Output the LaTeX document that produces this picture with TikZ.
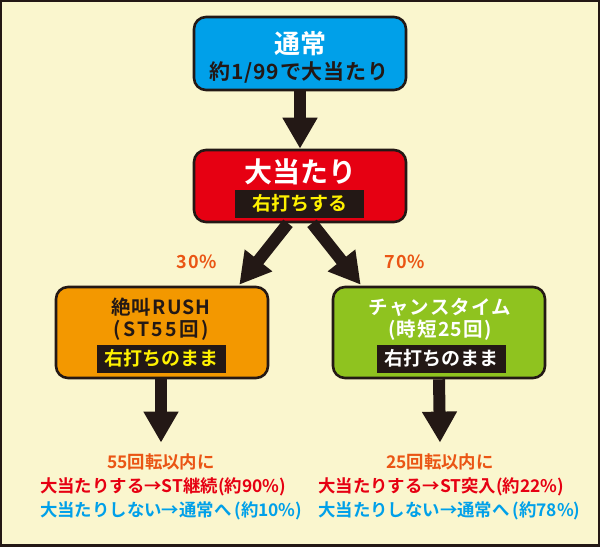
\documentclass[tikz,border=0pt]{standalone}
\usepackage{fontspec}
\setmainfont{Noto Sans CJK JP}[BoldFont={Noto Sans CJK JP Bold}]
\usetikzlibrary{arrows.meta, positioning}
\definecolor{paper1}{RGB}{250, 246, 206}
\definecolor{ink1}{RGB}{35, 24, 21}
\definecolor{tsujoblue}{RGB}{0, 160, 233}
\definecolor{hitred}{RGB}{230, 0, 18}
\definecolor{rushorange}{RGB}{243, 152, 0}
\definecolor{chancegreen}{RGB}{143, 195, 31}
\definecolor{signyellow}{RGB}{255, 241, 0}
\definecolor{rateorange}{RGB}{234, 85, 20}

\begin{document}
\begin{tikzpicture}[x=1pt, y=-1pt, font=\bfseries,
  modebox/.style={draw=ink1, line width=2.6pt, rounded corners=12pt, minimum width=212pt, inner sep=0pt},
  tag/.style={fill=ink1, minimum width=129pt, minimum height=28pt, inner sep=0pt, font=\bfseries\fontsize{19}{20}\selectfont},
  bigarrow/.style={draw=ink1, line width=12pt, -{Triangle[length=31pt, width=33pt]}},
  big/.style={font=\bfseries\fontsize{26}{28}\selectfont},
  mid/.style={font=\bfseries\fontsize{19.5}{21}\selectfont\addfontfeature{LetterSpace=6}},
  note/.style={font=\bfseries\fontsize{17.4}{19}\selectfont, inner sep=0pt}]
  % paper and frame
  \fill[paper1] (0,0) rectangle (600,547);
  \draw[ink1, line width=2.4pt] (1.2,1.2) rectangle (598.8,545.6);

  % normal mode
  \node[modebox, fill=tsujoblue, minimum height=73pt] (normal) at (300,53.5) {};
  \node[big, text=white] (normaltitle) at (300,44) {通常};
  \node[text=ink1, font=\bfseries\fontsize{21}{22}\selectfont\addfontfeature{LetterSpace=4}] (normalodds) at (299,72) {約1/99で大当たり};

  % jackpot
  \node[modebox, fill=hitred, minimum height=72pt] (oatari) at (300,186) {};
  \node[big, text=white, font=\bfseries\fontsize{28}{30}\selectfont] (oataritext) at (300,172) {大当たり};
  \node[tag, text=signyellow] (oataritag) at (299.5,203.5) {右打ちする};

  % ST RUSH
  \node[modebox, fill=rushorange, minimum height=91pt] (rush) at (162,332.5) {};
  \node[mid, text=ink1] (rushname) at (161,307) {絶叫RUSH};
  \node[text=ink1, font=\bfseries\fontsize{19.5}{21}\selectfont\addfontfeature{LetterSpace=12}] (rushspins) at (161,330) {(ST55回)};
  \node[tag, text=signyellow] (rushtag) at (161.5,358.5) {右打ちのまま};

  % chance time
  \node[modebox, fill=chancegreen, minimum height=91pt] (chance) at (439,332.5) {};
  \node[mid, text=white] (chancename) at (440,307) {チャンスタイム};
  \node[mid, text=white] (chancespins) at (440,330) {(時短25回)};
  \node[tag, text=white] (chancetag) at (441.5,358.5) {右打ちのまま};

  % split rates
  \node[text=rateorange, font=\bfseries\fontsize{18}{20}\selectfont\addfontfeature{LetterSpace=4}] (rate30) at (197,262) {30\%};
  \node[text=rateorange, font=\bfseries\fontsize{18}{20}\selectfont\addfontfeature{LetterSpace=4}] (rate70) at (405,262) {70\%};

  % outcomes
  \node[note, text=rateorange] (rushhead) at (161,462) {55回転以内に};
  \node[note, text=hitred, anchor=west] (rushwin) at (40,487) {大当たりする→ST継続(約90\%)};
  \node[note, text=tsujoblue, anchor=west] (rushlose) at (40,511) {大当たりしない→通常へ\,(約10\%)};
  \node[note, text=rateorange] (chancehead) at (440,462) {25回転以内に};
  \node[note, text=hitred, anchor=west] (chancewin) at (318,487) {大当たりする→ST突入(約22\%)};
  \node[note, text=tsujoblue, anchor=west] (chancelose) at (318,511) {大当たりしない→通常へ\,(約78\%)};

  % arrows
  \draw[bigarrow] (normal.south) -- (oatari.north);
  \draw[bigarrow] ([xshift=-12pt]oatari.south) -- ([xshift=-30pt, yshift=1pt]rush.north east);
  \draw[bigarrow] ([xshift=12pt]oatari.south) -- ([xshift=29pt, yshift=1pt]chance.north west);
  \draw[bigarrow] ([xshift=-1pt]rush.south) -- ([yshift=11pt]rushhead.north);
  \draw[bigarrow] (chance.south) -- ([yshift=11pt]chancehead.north);
\end{tikzpicture}
\end{document}
